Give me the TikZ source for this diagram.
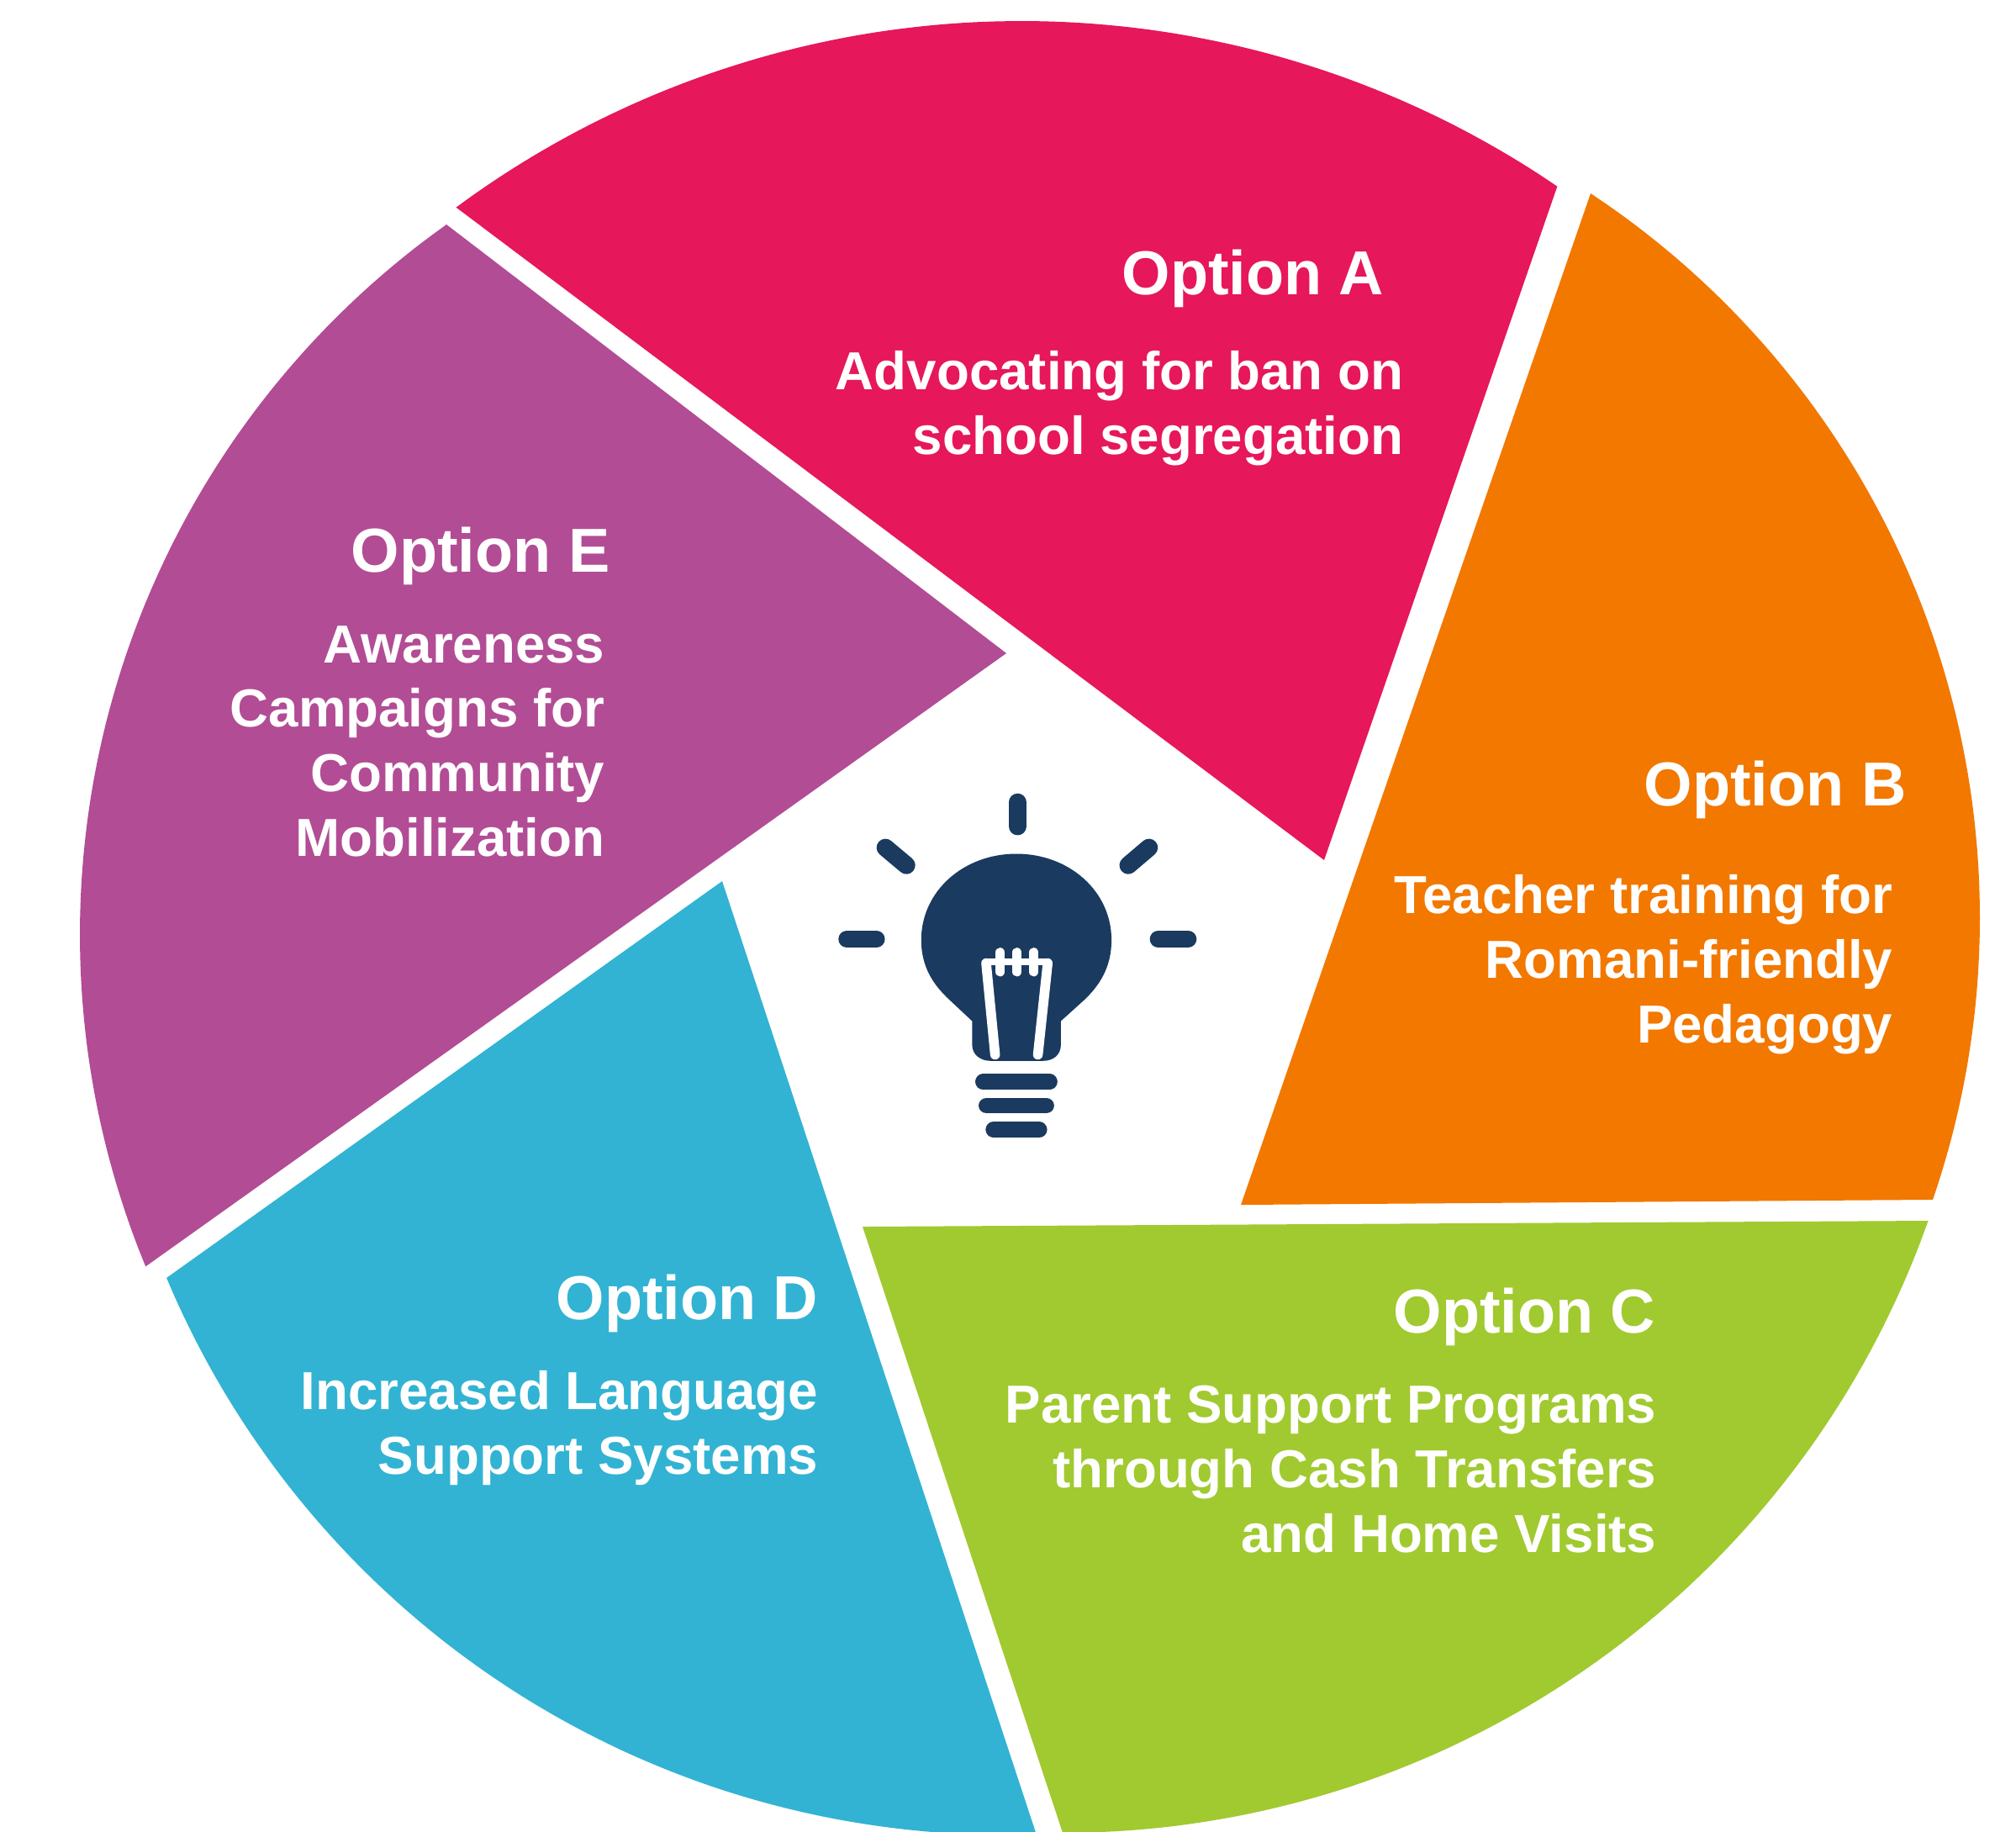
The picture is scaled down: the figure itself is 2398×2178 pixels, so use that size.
\documentclass[tikz,border=0pt]{standalone}
\usepackage{fontspec}
\setmainfont{Liberation Sans}
\definecolor{optA}{HTML}{E6175A}
\definecolor{optB}{HTML}{F27800}
\definecolor{optC}{HTML}{A0CA2F}
\definecolor{optD}{HTML}{32B3D3}
\definecolor{optE}{HTML}{B24C95}
\definecolor{bulb}{HTML}{1A3A60}
\tikzset{
  ttl/.style={anchor=base east,inner sep=0pt,text=white,font=\fontsize{21pt}{22pt}\selectfont\bfseries},
  bodytxt/.style={anchor=base east,inner sep=0pt,text=white,font=\fontsize{18.1pt}{21.8pt}\selectfont\bfseries,align=right},
  ray/.style={draw=bulb,line cap=round,line width=6pt},
  bar/.style={draw=bulb,line cap=round,line width=5.3pt},
  fil/.style={draw=white,line cap=round,line width=3.3pt},
}
\begin{document}
\begin{tikzpicture}[x=0.01cm,y=-0.01cm]
\path[use as bounding box] (0,0) rectangle (2398,2178);
\clip (0,0) rectangle (2398,2178);
% sectors
\fill[optA] (1575,1023) -- (543,247) -- plot[domain=233.5:304.3,samples=60,smooth] ({1215+1131*cos(\x)},{1156+1131*sin(\x)}) -- cycle;
\fill[optB] (1476,1433) -- (1892,230) -- plot[domain=-56.5:18.95,samples=60,smooth] ({1322+1033*cos(\x)},{1091.5+1033*sin(\x)}) -- cycle;
\fill[optC] (1026,1459) -- (2294,1452) -- plot[domain=19.5:90,samples=60,smooth] ({1264+1092*cos(\x)},{1088+1092*sin(\x)}) -- cycle;
\fill[optD] (859,1048) -- (198,1520) -- plot[domain=157.2:88,samples=60,smooth] ({1195+1081.4*cos(\x)},{1101+1081.4*sin(\x)}) -- cycle;
\fill[optE] (1197,777) -- (531,267) -- plot[domain=234.6:157.6,samples=60,smooth] ({1131+1036*cos(\x)},{1111.6+1036*sin(\x)}) -- cycle;
% bulb
\begin{scope}[shift={(960,900)},x=0.0033333cm,y=-0.0033333cm]
\fill[bulb] (748,347) .. controls (560,347) and (408,480) .. (408,655) .. controls (408,750) and (450,815) .. (510,870) -- (590,945) -- (590,1030) .. controls (590,1065) and (620,1087) .. (655,1087) -- (845,1087) .. controls (880,1087) and (907,1065) .. (907,1030) -- (907,945) -- (990,870) .. controls (1048,815) and (1088,750) .. (1088,655) .. controls (1088,480) and (936,347) .. (748,347) -- cycle;
\draw[ray] (752,163) -- (752,249);
\draw[ray] (280,325) -- (355,388);
\draw[ray] (1222,325) -- (1148,388);
\draw[ray,line width=5.7pt] (142,652) -- (248,652);
\draw[ray,line width=5.7pt] (1255,652) -- (1362,652);
\draw[bar] (629,1162) -- (867,1162);
\draw[bar] (641,1247) -- (855,1247);
\draw[bar] (666,1333) -- (830,1333);
\draw[fil] (672,1065) -- (640,738);
\draw[fil] (825,1065) -- (860,738);
\draw[fil,line width=2.1pt] (640,733) -- (862,733);
\draw[fil] (690,700) -- (690,768);
\draw[fil] (750,700) -- (750,768);
\draw[fil] (810,700) -- (810,768);
\end{scope}
% labels
\node[ttl] (ta) at (1647,350) {Option A};
\node[bodytxt] (ba) at (1670,540) {Advocating for ban on\\school segregation};
\node[ttl] (tb) at (2268,958) {Option B};
\node[bodytxt] (bb) at (2252,1240) {Teacher training for\\Romani-friendly\\Pedagogy};
\node[ttl] (tc) at (1970,1585) {Option C};
\node[bodytxt] (bc) at (1971,1846) {Parent Support Programs\\through Cash Transfers\\and Home Visits};
\node[ttl] (td) at (974,1569) {Option D};
\node[bodytxt] (bd) at (974,1753) {Increased Language\\Support Systems};
\node[ttl] (te) at (726,680) {Option E};
\node[bodytxt] (be) at (720,1018) {Awareness\\Campaigns for\\Community\\Mobilization};
\end{tikzpicture}
\end{document}
